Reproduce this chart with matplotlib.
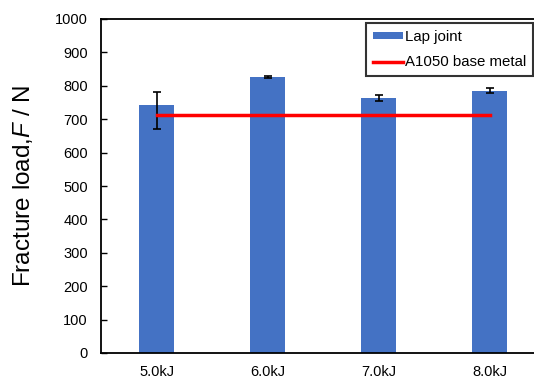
import matplotlib.pyplot as plt
import numpy as np

plt.rcParams["font.family"] = ["Liberation Sans", "DejaVu Sans"]
plt.rcParams["mathtext.fontset"] = "custom"
plt.rcParams["mathtext.it"] = "Liberation Sans:italic"
plt.rcParams["mathtext.rm"] = "Liberation Sans"

categories = ["5.0kJ", "6.0kJ", "7.0kJ", "8.0kJ"]
lap_joint = [742, 825, 763, 785]
lap_joint_err_low = [71, 3, 9, 7]
lap_joint_err_high = [39, 3, 9, 7]
base_metal = [713, 713, 713, 713]


def main() -> None:
    fig = plt.figure(figsize=(5.34, 3.79), dpi=100)
    ax = fig.add_axes([101 / 534, 26 / 379, 444 / 534, 334 / 379])

    x = np.arange(len(categories))
    ax.bar(x, lap_joint, width=0.32, color="#4472C4", label="Lap joint",
           yerr=[lap_joint_err_low, lap_joint_err_high],
           error_kw=dict(ecolor="black", elinewidth=1.2, capsize=3, capthick=1.2))
    ax.plot(x, base_metal, color="#FF0000", lw=2.5, label="A1050 base metal")

    ax.set_xlim(-0.5, 3.5)
    ax.set_ylim(0, 1000)
    ax.set_yticks(np.arange(0, 1001, 100))
    ax.set_xticks(x)
    ax.set_xticklabels(categories)
    ax.tick_params(axis="y", direction="in", length=4, width=1, labelsize=10.5, pad=9.5)
    ax.tick_params(axis="x", length=0, labelsize=10.5, pad=9)
    for spine in ax.spines.values():
        spine.set_linewidth(1.3)
    ax.spines["right"].set_visible(False)

    ax.set_ylabel("Fracture load,$\\it{F}$ / N", fontsize=17.5, labelpad=14)

    handles, labels = ax.get_legend_handles_labels()
    order = [labels.index("Lap joint"), labels.index("A1050 base metal")]
    leg = ax.legend([handles[i] for i in order], [labels[i] for i in order],
                    loc="upper left", bbox_to_anchor=(0.597, 0.988),
                    fontsize=10.8, frameon=True, fancybox=False,
                    handlelength=2.0, handleheight=0.35, handletextpad=0.15,
                    borderpad=0.45, labelspacing=0.75, borderaxespad=0)
    leg.get_frame().set_edgecolor("black")
    leg.get_frame().set_linewidth(1.5)

    fig.savefig("out.png", dpi=100)
    plt.close(fig)


if __name__ == "__main__":
    main()
